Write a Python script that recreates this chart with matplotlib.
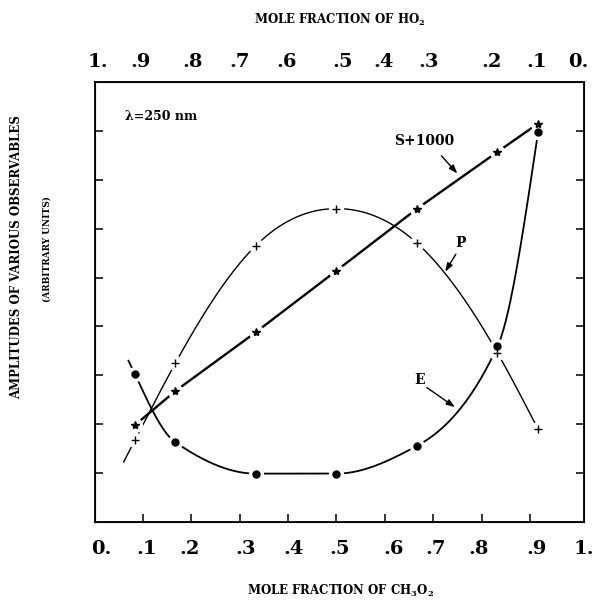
import numpy as np
import matplotlib
matplotlib.use("Agg")
import matplotlib.pyplot as plt

plt.rcParams['font.family'] = ['DejaVu Serif']
plt.rcParams['mathtext.fontset'] = 'dejavuserif'

# ---- data ----
x_frac = [0.083, 0.167, 0.333, 0.500, 0.667, 0.833, 0.917]   # mole fraction CH3O2
s_vals = [1.98, 2.68, 3.88, 5.14, 6.41, 7.57, 8.15]          # S+1000
p_vals = [1.67, 3.25, 5.65, 6.41, 5.70, 3.46, 1.90]          # P
e_vals = [3.03, 1.63, 0.99, 0.99, 1.56, 3.59, 7.97]          # E

bottom_labels = ['0.', '.1', '.2', '.3', '.4', '.5', '.6', '.7', '.8', '.9', '1.']
top_labels = ['1.', '.9', '.8', '.7', '.6', '.5', '.4', '.3', '.2', '.1', '0.']
tick_vals = [0.1, 0.2, 0.3, 0.4, 0.5, 0.6, 0.7, 0.8, 0.9]
ytick_vals = [1, 2, 3, 4, 5, 6, 7, 8]

# ---- layout (label placement as typeset in the original) ----
bottom_label_pos = [0.013, 0.107, 0.197, 0.313, 0.412, 0.506, 0.618, 0.704, 0.794, 0.914, 1.012]
top_label_pos = [0.007, 0.093, 0.201, 0.297, 0.393, 0.506, 0.591, 0.683, 0.812, 0.904, 0.988]
e_curve_start = 0.070
p_curve_start = 0.060


def natural_spline(x, y, xs):
    x = np.asarray(x, float); y = np.asarray(y, float)
    n = len(x); h = np.diff(x)
    A = np.zeros((n, n)); r = np.zeros(n)
    A[0, 0] = A[-1, -1] = 1
    for i in range(1, n - 1):
        A[i, i - 1] = h[i - 1]
        A[i, i] = 2 * (h[i - 1] + h[i])
        A[i, i + 1] = h[i]
        r[i] = 3 * ((y[i + 1] - y[i]) / h[i] - (y[i] - y[i - 1]) / h[i - 1])
    c = np.linalg.solve(A, r)
    b = (y[1:] - y[:-1]) / h - h * (2 * c[:-1] + c[1:]) / 3
    d = (c[1:] - c[:-1]) / (3 * h)
    idx = np.clip(np.searchsorted(x, xs) - 1, 0, n - 2)
    dx = xs - x[idx]
    return y[idx] + b[idx] * dx + c[idx] * dx ** 2 + d[idx] * dx ** 3


def pchip(x, y, xs):
    x = np.asarray(x, float); y = np.asarray(y, float)
    h = np.diff(x); dlt = np.diff(y) / h
    n = len(x); m = np.zeros(n)
    for i in range(1, n - 1):
        if dlt[i - 1] * dlt[i] > 0:
            w1 = 2 * h[i] + h[i - 1]; w2 = h[i] + 2 * h[i - 1]
            m[i] = (w1 + w2) / (w1 / dlt[i - 1] + w2 / dlt[i])
    m[0] = ((2 * h[0] + h[1]) * dlt[0] - h[0] * dlt[1]) / (h[0] + h[1])
    m[-1] = ((2 * h[-1] + h[-2]) * dlt[-1] - h[-1] * dlt[-2]) / (h[-1] + h[-2])
    idx = np.clip(np.searchsorted(x, xs) - 1, 0, n - 2)
    t = (xs - x[idx]) / h[idx]
    h00 = 2 * t**3 - 3 * t**2 + 1; h10 = t**3 - 2 * t**2 + t
    h01 = -2 * t**3 + 3 * t**2; h11 = t**3 - t**2
    return (h00 * y[idx] + h10 * h[idx] * m[idx] + h01 * y[idx + 1]
            + h11 * h[idx] * m[idx + 1])


fig = plt.figure(figsize=(5.99, 6.01), dpi=100)
ax = fig.add_axes([0.158, 0.1314, 0.817, 0.7322])
ax.set_xlim(0, 1)
ax.set_ylim(0, 9)

k = 'black'
# S+1000 line
ax.plot(x_frac, s_vals, color=k, lw=1.7, zorder=2)
# E curve
xe = np.linspace(e_curve_start, x_frac[-1], 400)
ax.plot(xe, pchip(x_frac, e_vals, xe), color=k, lw=1.3, zorder=2)
# P curve
xp = np.linspace(p_curve_start, x_frac[-1], 400)
ax.plot(xp, natural_spline(x_frac, p_vals, xp), color=k, lw=1.0, zorder=2)

# white gaps around markers
for yv in (s_vals, e_vals, p_vals):
    ax.plot(x_frac, yv, ls='none', marker='o', ms=11, mfc='white', mec='none', zorder=3)
ax.plot(x_frac, s_vals, ls='none', marker='*', ms=6, color=k, zorder=4)
ax.plot(x_frac, e_vals, ls='none', marker='o', ms=5, color=k, zorder=4)
ax.plot(x_frac, p_vals, ls='none', marker='+', ms=6, mew=1.0, color=k, zorder=4)

# annotations
tfont = dict(fontsize=10, fontweight='bold', color=k)
ap = dict(arrowstyle='-|>,head_length=0.5,head_width=0.18', color=k, lw=1.0, shrinkA=0, shrinkB=0)
ax.text(0.682, 7.80, 'S+1000', ha='center', va='center', **tfont)
ax.annotate('', xy=(0.750, 7.13), xytext=(0.717, 7.49), arrowprops=ap)
ax.text(0.757, 5.70, 'P', ha='center', va='center', **tfont)
ax.annotate('', xy=(0.725, 5.12), xytext=(0.747, 5.48), arrowprops=ap)
ax.text(0.673, 2.90, 'E', ha='center', va='center', **tfont)
ax.annotate('', xy=(0.745, 2.35), xytext=(0.687, 2.75), arrowprops=ap)
ax.text(0.062, 8.30, 'λ=250 nm', ha='left', va='center', fontsize=9, fontweight='bold')

# axes styling
for sp in ax.spines.values():
    sp.set_linewidth(1.3)
ax.set_yticks(ytick_vals)
ax.set_yticklabels([])
ax.tick_params(axis='y', which='major', direction='in', length=6, width=1.1, left=True, right=True)

ax.set_xticks(bottom_label_pos)
ax.set_xticklabels(bottom_labels, fontsize=14, fontweight='bold')
ax.set_xticks(tick_vals, minor=True)
ax.tick_params(axis='x', which='major', length=0, pad=13)
ax.tick_params(axis='x', which='minor', direction='in', length=6, width=1.1, top=True, bottom=True)

axt = ax.twiny()
axt.set_xlim(0, 1)
axt.set_xticks(top_label_pos)
axt.set_xticklabels(top_labels, fontsize=14, fontweight='bold')
axt.tick_params(axis='x', which='major', length=0, pad=8)
axt.set_xticks([], minor=True)

fig.text(0.568, 1 - 20 / 601, r'MOLE FRACTION OF HO$_{\mathbf{2}}$', ha='center', va='center',
         fontsize=8.5, fontweight='bold')
fig.text(0.568, 1 - 591 / 601, r'MOLE FRACTION OF CH$_{\mathbf{3}}$O$_{\mathbf{2}}$', ha='center', va='center',
         fontsize=8.5, fontweight='bold')
fig.text(17 / 599, 1 - 257 / 601, 'AMPLITUDES OF VARIOUS OBSERVABLES', rotation=90,
         ha='center', va='center', fontsize=8.5, fontweight='bold')
fig.text(47 / 599, 1 - 249 / 601, '(ARBITRARY UNITS)', rotation=90,
         ha='center', va='center', fontsize=6.5, fontweight='bold')

fig.savefig('out.png', dpi=100, facecolor='white')
